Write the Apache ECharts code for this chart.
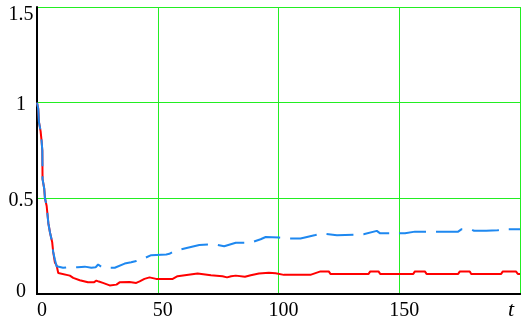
<!DOCTYPE html>
<html>
<head>
<meta charset="utf-8">
<script src="https://cdn.jsdelivr.net/npm/echarts@6/dist/echarts.min.js"></script>
<style>html,body{margin:0;padding:0;background:#fff}#c{width:523px;height:329px}</style>
</head>
<body>
<div id="c"></div>
<script>
// Tick labels
var xTicks = [0, 50, 100, 150];
var yTicks = [0, 0.5, 1, 1.5];

// Red series (solid) : t values and y values
var redT = [0, 0.5, 0.8, 1.5, 1.9, 2.2, 2.3, 3.0, 3.3, 4.0, 4.7, 5.4, 6.3, 6.7, 7.4, 8.1, 8.8, 9.6, 13.6, 15, 17.7, 21.1, 23.5, 24.6, 25.6, 27.3, 30.1, 32.9, 34.2, 38.3, 41.1, 42.5, 44.5, 46.6, 49.3, 56.2, 58.2, 58.9, 66.5, 72, 76.8, 78.7, 80.4, 82.3, 86.1, 88.5, 91.9, 96, 96.7, 98.8, 102.2, 113.2, 113.9, 117.4, 120.8, 121.5, 137.3, 138, 141.4, 142.1, 155.8, 156.5, 160.6, 161.3, 174.4, 175.1, 179.2, 179.8, 192.2, 192.9, 198.3, 199.1, 200];
var redV = [1.0, 0.97, 0.90, 0.85, 0.80, 0.75, 0.60, 0.55, 0.50, 0.46, 0.37, 0.32, 0.27, 0.22, 0.165, 0.15, 0.11, 0.10, 0.096, 0.084, 0.072, 0.061, 0.061, 0.07, 0.065, 0.058, 0.045, 0.049, 0.061, 0.063, 0.058, 0.066, 0.079, 0.087, 0.079, 0.079, 0.093, 0.098, 0.107, 0.098, 0.093, 0.087, 0.093, 0.096, 0.09, 0.098, 0.107, 0.111, 0.116, 0.108, 0.1, 0.1, 0.105, 0.118, 0.118, 0.105, 0.105, 0.118, 0.118, 0.105, 0.105, 0.118, 0.118, 0.105, 0.105, 0.118, 0.118, 0.105, 0.105, 0.118, 0.118, 0.105, 0.105];

// Blue series (dashed)
var blueT = [0, 0.5, 0.8, 1.5, 1.9, 2.2, 2.3, 3.0, 3.3, 4.0, 4.7, 5.4, 6.3, 6.7, 7.4, 8.1, 10.8, 12.9, 16.9, 19.8, 22.5, 24.3, 25.3, 26, 27.2, 32.2, 36.3, 39, 41.1, 43.2, 47.3, 53.5, 54.8, 56.9, 62.4, 67.2, 73.4, 77.5, 82.3, 88.5, 92.6, 94.7, 100.2, 103.6, 109.1, 111.8, 115.3, 118, 124.2, 135.2, 135.9, 140.7, 142.1, 152.4, 156.5, 169.5, 174.4, 175.7, 179.8, 181, 186, 190.8, 192.2, 200];
var blueV = [1.0, 0.97, 0.90, 0.85, 0.80, 0.75, 0.60, 0.55, 0.50, 0.46, 0.37, 0.32, 0.27, 0.22, 0.18, 0.145, 0.137, 0.14, 0.14, 0.143, 0.137, 0.14, 0.154, 0.147, 0.137, 0.137, 0.159, 0.166, 0.172, 0.18, 0.203, 0.207, 0.21, 0.224, 0.242, 0.256, 0.26, 0.25, 0.268, 0.268, 0.286, 0.298, 0.295, 0.29, 0.29, 0.298, 0.308, 0.316, 0.307, 0.312, 0.32, 0.33, 0.317, 0.317, 0.326, 0.326, 0.326, 0.338, 0.338, 0.33, 0.33, 0.333, 0.338, 0.338];

function pairs(t, v) { return t.map(function (x, i) { return [x, v[i]]; }); }

var serif = 'Liberation Serif';
var chart = echarts.init(document.getElementById('c'), null, { renderer: 'canvas' });
chart.setOption({
  animation: false,
  backgroundColor: '#fff',
  grid: { left: 37, top: 7, right: 1, bottom: 35, containLabel: false },
  xAxis: [{
    type: 'value', min: 0, max: 200, interval: 50,
    axisLine: { show: true, onZero: false, lineStyle: { color: '#000', width: 2 } },
    axisTick: { show: false },
    splitLine: { show: true, lineStyle: { color: '#22ee22', width: 1 } },
    axisLabel: {
      fontFamily: serif, fontSize: 20, color: '#000', margin: 7,
      padding: [0, 0, 0, 10],
      formatter: function (v) { return xTicks.indexOf(v) >= 0 ? String(v) : ''; }
    }
  }, {
    type: 'value', position: 'top', min: 0, max: 200, interval: 50,
    axisLine: { show: true, lineStyle: { color: '#000', width: 2 } },
    axisTick: { show: false }, axisLabel: { show: false }, splitLine: { show: false }
  }],
  yAxis: {
    type: 'value', min: 0, max: 1.5, interval: 0.5,
    axisLine: { show: true, onZero: false, lineStyle: { color: '#000', width: 2 } },
    axisTick: { show: false },
    splitLine: { show: true, lineStyle: { color: '#22ee22', width: 1 } },
    axisLabel: {
      fontFamily: serif, fontSize: 20, color: '#000', margin: 16, align: 'center',
      formatter: function (v) {
        if (yTicks.indexOf(v) < 0) return '';
        if (v === 1.5) return '{top|' + v + '}';
        if (v === 0) return '{bot|' + v + '}';
        return '{mid|' + v + '}';
      },
      rich: {
        top: { fontFamily: serif, fontSize: 20, color: '#000', padding: [16, 0, 0, 0] },
        mid: { fontFamily: serif, fontSize: 20, color: '#000', padding: [4, 0, 0, 0] },
        bot: { fontFamily: serif, fontSize: 20, color: '#000', padding: [0, 0, 4, 0] }
      }
    }
  },
  graphic: [{
    type: 'text', left: 508, top: 299,
    style: { text: 't', font: 'italic 22px "Liberation Serif"', fill: '#000' }
  }],
  series: [{
    type: 'line', data: pairs(redT, redV), showSymbol: false, symbol: 'none',
    lineStyle: { color: '#ff0000', width: 2 }, z: 3
  }, {
    type: 'line', data: pairs(blueT, blueV), showSymbol: false, symbol: 'none',
    lineStyle: { color: '#1e88f0', width: 2, type: [27, 10] }, z: 4
  }]
});
</script>
</body>
</html>
